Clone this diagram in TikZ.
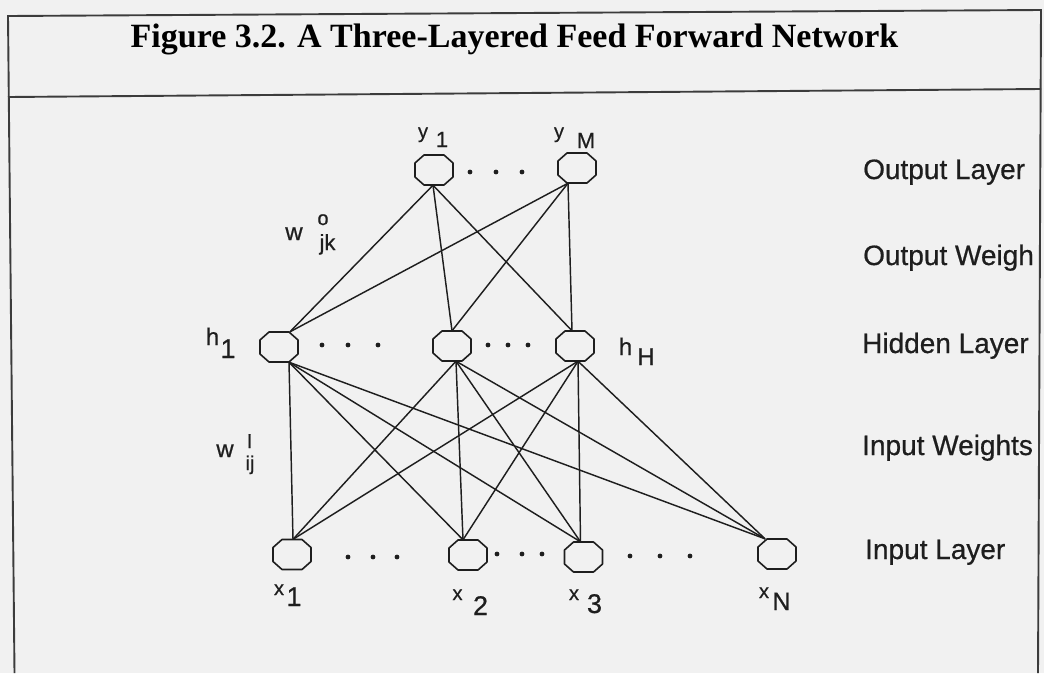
\documentclass[tikz,border=0pt]{standalone}
\usepackage{fontspec}
\setmainfont{Liberation Serif}
\setsansfont{Liberation Sans}
\newfontfamily\lblfont{Liberation Sans}[FakeBold=0.6]
\usetikzlibrary{calc}
\definecolor{bg}{RGB}{241,241,241}
\definecolor{ink}{RGB}{30,30,30}
\definecolor{framecol}{RGB}{60,60,60}
\begin{document}
\begin{tikzpicture}[x=1pt,y=-1pt,
  neuron/.style={rectangle, minimum width=38pt, minimum height=30pt, inner sep=0pt},
  octa/.style={draw=ink, line width=1.6pt, line join=round},
  conn/.style={draw=ink, line width=1.45pt},
  frameline/.style={draw=framecol, line width=1.9pt},
  lbl/.style={inner sep=0pt, anchor=base, text=ink, font=\fontsize{#1}{#1}\lblfont},
  layer/.style={inner sep=0pt, anchor=base west, text=ink, font=\fontsize{28}{28}\lblfont},
  titlestyle/.style={inner sep=0pt, anchor=base, text=black, font=\fontsize{34}{34}\bfseries},
  dotmark/.style={fill=ink},
]
\useasboundingbox (0,0) rectangle (1044,673);
\fill[bg] (0,0) rectangle (1044,673);

% frame
\draw[frameline] (14.5,673) -- (8,16) -- (1041,10) -- (1038,673);
\draw[frameline] (8,97) -- (1041,89);
\node[titlestyle] (title) at (514.5,47) {Figure 3.2. A Three-Layered Feed Forward Network};

% neurons
\node[neuron] (y1) at (434,170) {};
\node[neuron] (yM) at (577,168) {};
\node[neuron] (h1) at (279,347) {};
\node[neuron] (h2) at (452,346) {};
\node[neuron] (hH) at (575,346) {};
\node[neuron] (x1) at (292,554.5) {};
\node[neuron] (x2) at (468,555) {};
\node[neuron] (x3) at (583.5,557) {};
\node[neuron] (xN) at (777,554) {};

\foreach \n in {y1,yM,h1,h2,hH,x1,x2,x3,xN}
  \draw[octa] (\n.center) ++(-19,-7) -- ++(0,14) -- ++(9,8) -- ++(20,0) -- ++(9,-8) -- ++(0,-14) -- ++(-9,-8) -- ++(-20,0) -- cycle;

% attach points
\coordinate (y1b) at ([xshift=-1pt]y1.south);
\coordinate (yMb) at ([xshift=-9pt]yM.south);
\coordinate (h1t) at ([xshift=11pt]h1.north);
\coordinate (h1b) at ([xshift=10pt]h1.south);
\coordinate (h2t) at (h2.north);
\coordinate (h2b) at ([xshift=4pt]h2.south);
\coordinate (hHt) at ([xshift=-3pt]hH.north);
\coordinate (hHb) at ([xshift=3pt]hH.south);
\coordinate (x1t) at ([xshift=1pt]x1.north);
\coordinate (x2t) at ([xshift=-5pt]x2.north);
\coordinate (x3t) at ([xshift=-3pt]x3.north);
\coordinate (xNt) at ([xshift=-12pt]xN.north);

% connectors
\foreach \h in {h1t,h2t,hHt}
  \foreach \o in {y1b,yMb}
    \draw[conn] (\h) -- (\o);
\foreach \h in {h1b,h2b,hHb}
  \foreach \i in {x1t,x2t,x3t,xNt}
    \draw[conn] (\h) -- (\i);

% ellipsis dots
\foreach \x/\y in {470/172,496/172,522/172,
                   322/345,348/345,378/345,
                   488/345,508/345,528/345,
                   348/557,373/557,397/557,
                   497/554,522/554,542/554,
                   630/556,660/556,690/556}
  \fill[dotmark] (\x,\y) circle (2.4pt);

% node labels
\node[lbl=20] (ly1a) at (423,138) {y};
\node[lbl=22] (ly1b) at (442,147) {1};
\node[lbl=20] (lyMa) at (559,138) {y};
\node[lbl=22] (lyMb) at (586,148) {M};
\node[lbl=24] (lh1a) at (212.5,345) {h};
\node[lbl=27] (lh1b) at (228,358) {1};
\node[lbl=24] (lhHa) at (625.5,355) {h};
\node[lbl=24] (lhHb) at (646,365) {H};
\node[lbl=20] (lx1a) at (279,595) {x};
\node[lbl=27] (lx1b) at (294,606) {1};
\node[lbl=20] (lx2a) at (457.5,600) {x};
\node[lbl=27] (lx2b) at (480.5,615) {2};
\node[lbl=20] (lx3a) at (574,600) {x};
\node[lbl=27] (lx3b) at (594.5,613) {3};
\node[lbl=20] (lxNa) at (764,598) {x};
\node[lbl=25] (lxNb) at (781.5,610) {N};

% weight labels
\node[lbl=24] (wo) at (294,240) {w};
\node[lbl=20] (wosup) at (323,225) {o};
\node[lbl=22] (wosub) at (327.5,250) {jk};
\node[lbl=24] (wi) at (225,457) {w};
\node[lbl=20] (wisup) at (249.5,448) {I};
\node[lbl=20] (wisub) at (250,470) {ij};

% layer names
\node[layer] (lout) at (863,179) {Output Layer};
\node[layer] (lowt) at (863,265) {Output Weigh};
\node[layer] (lhid) at (862,353) {Hidden Layer};
\node[layer] (liwt) at (862,455) {Input Weights};
\node[layer] (linp) at (865,559) {Input Layer};
\end{tikzpicture}
\end{document}
